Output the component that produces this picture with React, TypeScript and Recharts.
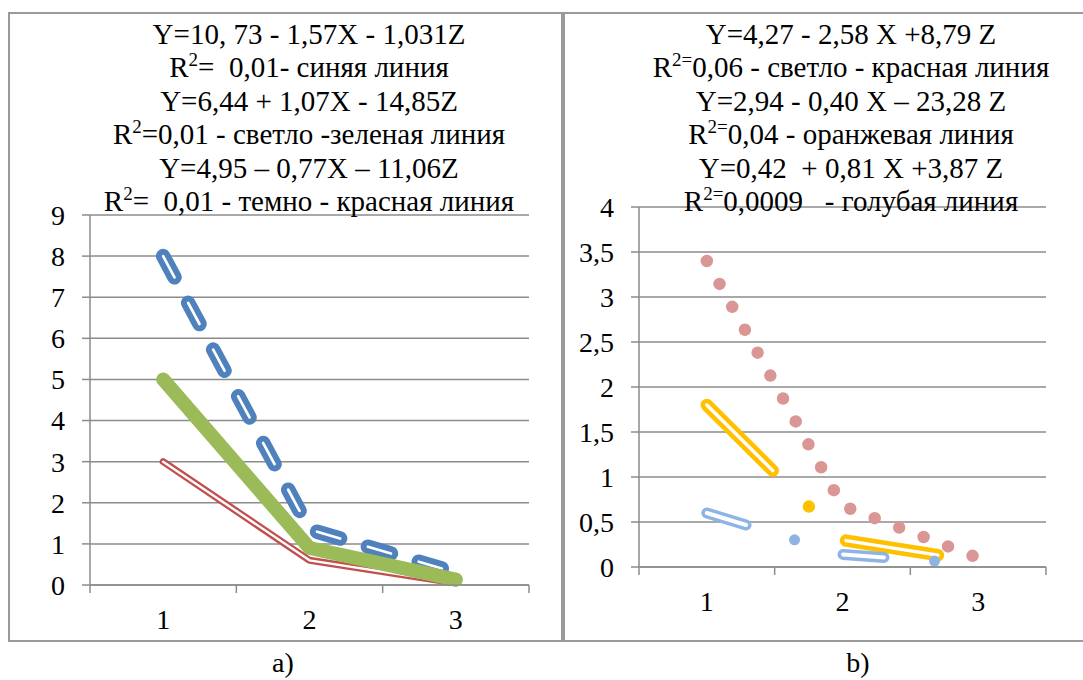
import { CartesianGrid, Line, LineChart, XAxis, YAxis } from "recharts";

// categories on the x axis (both panels)
const categories = [1, 2, 3];

// panel a)
const blueA = [8, 1.35, 0.3];
const greenA = [5, 0.9, 0.13];
const redA = [3, 0.6, 0.05];
const yTicksA = [0, 1, 2, 3, 4, 5, 6, 7, 8, 9];

// panel b)
const pinkB = [3.4, 0.68, 0.1];
const orangeB = [1.8, 0.3, 0.06];
const lightBlueB = [0.6, 0.14, 0.03];
const yTicksB = [0, 0.5, 1, 1.5, 2, 2.5, 3, 3.5, 4];

type Seg = string | { sup: string };

const titleA: Seg[][] = [
  ["Y=10, 73 - 1,57X - 1,031Z"],
  ["R", { sup: "2" }, "=  0,01- синяя линия"],
  ["Y=6,44 + 1,07X - 14,85Z"],
  ["R", { sup: "2" }, "=0,01 - светло -зеленая линия"],
  ["Y=4,95 – 0,77X – 11,06Z"],
  ["R", { sup: "2" }, "=  0,01 - темно - красная линия"],
];

const titleB: Seg[][] = [
  ["Y=4,27 - 2,58 X +8,79 Z"],
  ["R", { sup: "2=" }, "0,06 - светло - красная линия"],
  ["Y=2,94 - 0,40 X – 23,28 Z"],
  ["R", { sup: "2=" }, "0,04 - оранжевая линия"],
  ["Y=0,42  + 0,81 X +3,87 Z"],
  ["R", { sup: "2=" }, "0,0009   - голубая линия"],
];

const FONT = "Liberation Serif, Times New Roman, Tinos, DejaVu Serif, Noto Serif, serif";
const AXIS = "#8c8c8c";
const BORDER = "#9a9a9a";

const rowsA = categories.map((c, i) => ({ x: c, blue: blueA[i], green: greenA[i], red: redA[i] }));
const rowsB = categories.map((c, i) => ({ x: c, pink: pinkB[i], orange: orangeB[i], lblue: lightBlueB[i] }));

// band edges for tick marks + centres for labels
const xTicks = [
  ...categories.map((c) => c - 0.5),
  categories[categories.length - 1] + 0.5,
  ...categories,
].sort((a, b) => a - b);

const fmt = (v: number) => String(v).replace(".", ",");

function XTick(props: any) {
  const { x, y, payload } = props;
  const v = payload.value;
  if (categories.includes(v)) {
    return (
      <text x={x} y={y + 26} textAnchor="middle" dominantBaseline="central" fontSize={28} style={{ fontFamily: FONT }} fill="#000">
        {v}
      </text>
    );
  }
  return <line x1={x} y1={y - 8} x2={x} y2={y} stroke={AXIS} strokeWidth={1.5} />;
}

const yTickStyle = { fill: "#000", fontSize: 28, style: { fontFamily: FONT } };
const axisLine = { stroke: AXIS, strokeWidth: 1.5 };

function Title({ lines, cx, y0 }: { lines: Seg[][]; cx: number; y0: number }) {
  return (
    <>
      {lines.map((segs, li) => {
        let raised = false;
        return (
          <text
            key={li}
            x={cx}
            y={y0 + li * 33.5}
            textAnchor="middle"
            fontSize={29}
            fill="#000"
            style={{ whiteSpace: "pre", fontFamily: FONT }}
          >
            {segs.map((s, si) => {
              if (typeof s === "string") {
                const dy = raised ? 11 : 0;
                raised = false;
                return (
                  <tspan key={si} dy={dy}>
                    {s}
                  </tspan>
                );
              }
              raised = true;
              return (
                <tspan key={si} dy={-11} fontSize={19}>
                  {s.sup}
                </tspan>
              );
            })}
          </text>
        );
      })}
    </>
  );
}

const lineBase = { type: "linear" as const, dot: false, activeDot: false, isAnimationActive: false, strokeLinecap: "round" as const, strokeLinejoin: "round" as const };

function ChartA() {
  return (
    <LineChart width={560} height={640} data={rowsA} margin={{ top: 215, right: 31, bottom: 0, left: 0 }}>
      <CartesianGrid vertical={false} stroke={AXIS} strokeWidth={1.5} />
      <XAxis
        dataKey="x"
        type="number"
        domain={[0.5, 3.5]}
        ticks={xTicks}
        interval={0}
        height={55}
        tickSize={8}
        tickMargin={0}
        tickLine={false}
        axisLine={axisLine}
        tick={(p: any) => <XTick {...p} />}
      />
      <YAxis
        type="number"
        domain={[0, 9]}
        ticks={yTicksA}
        interval={0}
        width={90}
        tickSize={8}
        tickMargin={17}
        axisLine={axisLine}
        tickLine={axisLine}
        tick={yTickStyle}
      />
      {/* double (compound) lines: coloured stroke with a thin white core */}
      <Line {...lineBase} dataKey="red" stroke="#C0504D" strokeWidth={7} />
      <Line {...lineBase} dataKey="red" stroke="#ffffff" strokeWidth={2.4} />
      <Line {...lineBase} dataKey="blue" stroke="#4F81BD" strokeWidth={14.5} strokeDasharray="24 29" />
      <Line {...lineBase} dataKey="blue" stroke="#ffffff" strokeWidth={2.7} strokeDasharray="24 29" />
      <Line {...lineBase} dataKey="green" stroke="#9BBB59" strokeWidth={14} />
    </LineChart>
  );
}

function ChartB() {
  return (
    <LineChart width={523} height={640} data={rowsB} margin={{ top: 207, right: 37, bottom: 0, left: 0 }}>
      <CartesianGrid vertical={false} stroke={AXIS} strokeWidth={1.5} />
      <XAxis
        dataKey="x"
        type="number"
        domain={[0.5, 3.5]}
        ticks={xTicks}
        interval={0}
        height={73}
        tickSize={8}
        tickMargin={0}
        tickLine={false}
        axisLine={axisLine}
        tick={(p: any) => <XTick {...p} />}
      />
      <YAxis
        type="number"
        domain={[0, 4]}
        ticks={yTicksB}
        interval={0}
        width={79}
        tickSize={8}
        tickMargin={17}
        axisLine={axisLine}
        tickLine={axisLine}
        tick={yTickStyle}
        tickFormatter={fmt}
      />
      <Line {...lineBase} dataKey="pink" stroke="#D99694" strokeWidth={12.5} strokeDasharray="0 26.2" />
      {/* long dash - dot patterns; the white core skips the dot */}
      <Line {...lineBase} dataKey="orange" stroke="#FFC000" strokeWidth={12.5} strokeDasharray="93 51 0 51" />
      <Line {...lineBase} dataKey="orange" stroke="#ffffff" strokeWidth={3.4} strokeDasharray="93 102" />
      <Line {...lineBase} dataKey="lblue" stroke="#8EB4E3" strokeWidth={11} strokeDasharray="41 50.7 0 50.7" />
      <Line {...lineBase} dataKey="lblue" stroke="#ffffff" strokeWidth={4} strokeDasharray="41 101.4" />
    </LineChart>
  );
}

export default function App() {
  return (
    <div style={{ position: "absolute", left: 0, top: 0, width: 1083, height: 680, background: "#fff", overflow: "hidden" }}>
      <div style={{ position: "absolute", left: 8, top: 12, width: 555, height: 630, border: `2px solid ${BORDER}`, boxSizing: "border-box" }} />
      <div style={{ position: "absolute", left: 563, top: 12, width: 560, height: 630, border: `2px solid ${BORDER}`, boxSizing: "border-box" }} />
      <div style={{ position: "absolute", left: 0, top: 0 }}>
        <ChartA />
      </div>
      <div style={{ position: "absolute", left: 560, top: 0 }}>
        <ChartB />
      </div>
      <svg width={1083} height={680} style={{ position: "absolute", left: 0, top: 0, pointerEvents: "none" }}>
        <Title lines={titleA} cx={309} y0={43.5} />
        <Title lines={titleB} cx={851} y0={43.5} />
        <text x={283} y={672} textAnchor="middle" fontSize={28} fill="#000" style={{ fontFamily: FONT }}>
          a)
        </text>
        <text x={858} y={672} textAnchor="middle" fontSize={28} fill="#000" style={{ fontFamily: FONT }}>
          b)
        </text>
      </svg>
    </div>
  );
}
